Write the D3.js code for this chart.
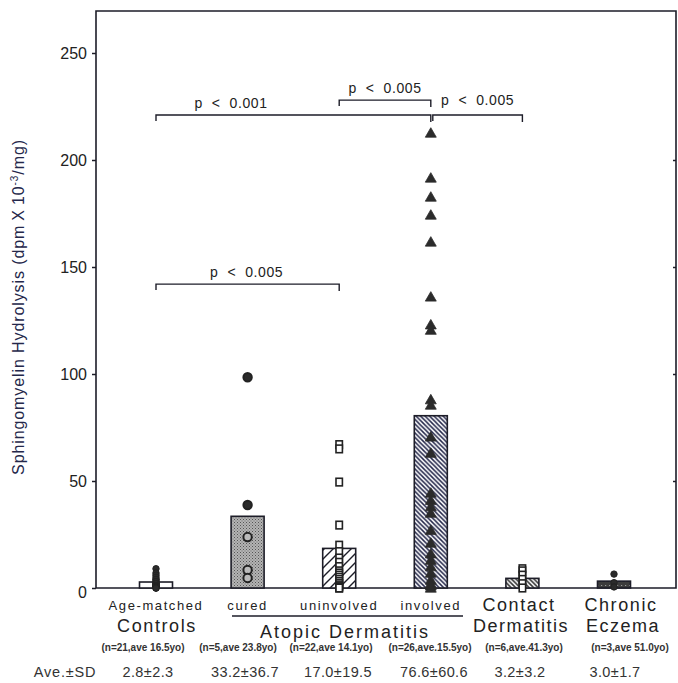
<!DOCTYPE html>
<html>
<head>
<meta charset="UTF-8" />
<script src="https://cdn.jsdelivr.net/npm/d3@7"></script>
<style>
  body { margin: 0; background: #fff; }
  svg { display: block; font-family: "Liberation Sans", Arial, sans-serif; }
  .pre { white-space: pre; }
</style>
</head>
<body>
<div id="chart"></div>
<script>
// groups along the x axis
const groups = ["controls", "cured", "uninvolved", "involved", "contact", "chronic"];
// bar heights (group means as drawn)
const barValues = [2.8, 33.5, 18.5, 80.5, 4.5, 3.2];
// individual points per group
const controlsPts = [9, 7, 6, 5, 4, 4, 3, 3, 2, 2, 2, 2, 1, 1, 1, 1, 0.5, 0.5, 0, 0, 0];
const curedPts = [98.5, 38.8, 23.8, 8.4, 4.7];
const uninvolvedPts = [67, 65, 49.5, 29.4, 20, 17, 14, 12, 10, 8, 7, 6, 5, 4, 3, 2, 2, 1, 1, 0.5, 0, 0];
const involvedPts = [212.6, 191.6, 182.7, 174.3, 161.7, 136, 123, 120.5, 88, 85.5, 70.6, 63, 44.4, 41, 38, 35, 27, 21, 16, 13, 10, 7, 3.7, 2, 1, 0];
const contactPts = [9, 8, 6, 4, 2, 0];
const chronicPts = [6.5, 2.5, 0.5];
// labels
const topLabels = ["Age-matched", "cured", "uninvolved", "involved"];
const nLabels = ["(n=21,ave 16.5yo)", "(n=5,ave 23.8yo)", "(n=22,ave 14.1yo)", "(n=26,ave.15.5yo)", "(n=6,ave.41.3yo)", "(n=3,ave 51.0yo)"];
const aveLabels = ["2.8\u00b12.3", "33.2\u00b136.7", "17.0\u00b119.5", "76.6\u00b160.6", "3.2\u00b13.2", "3.0\u00b11.7"];
const yTicks = [0, 50, 100, 150, 200, 250];
// significance brackets: from, to, level, label
const brackets = [
  ["controls", "involved", 221, "p  <  0.001"],
  ["uninvolved", "involved", 228, "p  <  0.005"],
  ["involved", "contact", 221, "p  <  0.005"],
  ["controls", "uninvolved", 142, "p  <  0.005"]
];

const W = 678, H = 683;
const ink = "#1d1d28", navy = "#24274a";
const svg = d3.select("#chart").append("svg").attr("width", W).attr("height", H);

const x = d3.scalePoint().domain(groups).range([156, 614]);
const y = d3.scaleLinear().domain([0, 250]).range([588, 53]);
const frameL = 96, frameR = 676, frameT = 11;

// patterns
const defs = svg.append("defs");
const stip = defs.append("pattern").attr("id", "stip").attr("width", 3).attr("height", 3).attr("patternUnits", "userSpaceOnUse");
stip.append("rect").attr("width", 3).attr("height", 3).attr("fill", "#b4b4b4");
stip.append("rect").attr("width", 1).attr("height", 1).attr("fill", "#555");
stip.append("rect").attr("x", 1.5).attr("y", 1.5).attr("width", 1).attr("height", 1).attr("fill", "#6a6a6a");
function hatch(id, size, dir, w, col) {
  const p = defs.append("pattern").attr("id", id).attr("width", size).attr("height", size)
    .attr("patternUnits", "userSpaceOnUse");
  p.append("rect").attr("width", size).attr("height", size).attr("fill", "#fff");
  const d = dir > 0
    ? `M0,${size} L${size},0 M${-size/2},${size/2} L${size/2},${-size/2} M${size/2},${size*1.5} L${size*1.5},${size/2}`
    : `M0,0 L${size},${size} M${-size/2},${size/2} L${size/2},${size*1.5} M${size/2},${-size/2} L${size*1.5},${size/2}`;
  p.append("path").attr("d", d).attr("stroke", col).attr("stroke-width", w);
}
hatch("wide", 9, 1, 1.4, ink);
hatch("dense", 4.5, -1, 1.5, navy);
hatch("dense2", 4.5, -1, 1.6, "#333");
const dark = defs.append("pattern").attr("id", "dark").attr("width", 4).attr("height", 4).attr("patternUnits", "userSpaceOnUse");
dark.append("rect").attr("width", 4).attr("height", 4).attr("fill", "#3c3c3c");
dark.append("rect").attr("x", 1).attr("y", 1).attr("width", 1.2).attr("height", 1).attr("fill", "#999");
const fills = ["#fff", "url(#stip)", "url(#wide)", "url(#dense)", "url(#dense2)", "url(#dark)"];

// frame
svg.append("path")
  .attr("d", `M${frameL},${frameT} H${frameR} V${y(0)} H${frameL} Z`)
  .attr("fill", "none").attr("stroke", ink).attr("stroke-width", 1.6);

// left axis
const yAxis = svg.append("g").attr("transform", `translate(${frameL},0)`)
  .call(d3.axisLeft(y).tickValues(yTicks).tickSize(4).tickPadding(5));
yAxis.select(".domain").remove();
yAxis.selectAll("line").attr("stroke", ink).attr("stroke-width", 1.5);
yAxis.selectAll("text").attr("font-size", 16).attr("fill", "#222").attr("font-family", "Liberation Sans, Arial");
yAxis.selectAll("text").filter(d => d === 0).attr("dy", "0.6em");

// right inward ticks
const rAxis = svg.append("g").attr("transform", `translate(${frameR},0)`)
  .call(d3.axisLeft(y).tickValues([50, 100, 150, 200]).tickSize(3).tickFormat(""));
rAxis.select(".domain").remove();
rAxis.selectAll("line").attr("stroke", ink).attr("stroke-width", 1.5);

// y label
const yl = svg.append("text")
  .attr("transform", `translate(24,307) rotate(-90)`)
  .attr("text-anchor", "middle").attr("font-size", 16).attr("letter-spacing", 0.9).attr("fill", navy);
yl.append("tspan").text("Sphingomyelin Hydrolysis (dpm\u2009X\u200910");
yl.append("tspan").attr("font-size", 10).attr("dy", -6).text("-3");
yl.append("tspan").attr("dy", 6).text("/mg)");

// bars
const bw = 33;
svg.selectAll("rect.bar").data(groups).enter().append("rect")
  .attr("class", "bar")
  .attr("x", d => x(d) - bw / 2)
  .attr("width", bw)
  .attr("y", (d, i) => y(barValues[i]))
  .attr("height", (d, i) => y(0) - y(barValues[i]))
  .attr("fill", (d, i) => fills[i])
  .attr("stroke", ink).attr("stroke-width", 1.6);

// points
const ptSets = [controlsPts, curedPts, uninvolvedPts, involvedPts, contactPts, chronicPts];
const shapes = ["circle", "circle", "square", "triangle", "square", "circle"];
ptSets.forEach((pts, gi) => {
  const cx = x(groups[gi]);
  const g = svg.append("g");
  const inBar = v => v <= barValues[gi];
  if (shapes[gi] === "circle") {
    g.selectAll("circle").data(pts).enter().append("circle")
      .attr("cx", cx).attr("cy", d => y(d))
      .attr("r", gi === 1 ? 4.2 : 3.2)
      .attr("fill", d => gi === 1 && inBar(d) ? "#bbb" : "#2b2b2b")
      .attr("stroke", "#222").attr("stroke-width", gi === 1 ? 2 : 1);
  } else if (shapes[gi] === "square") {
    g.selectAll("rect").data(pts).enter().append("rect")
      .attr("x", cx - 3.2).attr("y", d => y(d) - 3.8)
      .attr("width", 6.4).attr("height", 7.6)
      .attr("fill", "#fff").attr("stroke", "#222").attr("stroke-width", 1.6);
  } else {
    g.selectAll("path").data(pts).enter().append("path")
      .attr("d", d3.symbol(d3.symbolTriangle).size(52))
      .attr("transform", d => `translate(${cx},${y(d) + 1})`)
      .attr("fill", "#2b2b2b").attr("stroke", "#2b2b2b").attr("stroke-width", 0.8);
  }
});

// brackets
brackets.forEach(([a, b, lv, lab], i) => {
  let x1 = x(a), x2 = x(b);
  if (i === 2) x1 += 2;
  const yy = y(lv);
  svg.append("path")
    .attr("d", `M${x1},${yy + 6} V${yy} H${x2} V${yy + 7}`)
    .attr("fill", "none").attr("stroke", ink).attr("stroke-width", 1.4);
  const lx = i === 0 ? 231 : (x1 + x2) / 2 + (i === 3 ? -1 : 0);
  svg.append("text").attr("class", "pre")
    .attr("x", lx).attr("y", yy - (i === 2 ? 10 : 7))
    .attr("text-anchor", "middle").attr("font-size", 14).attr("fill", "#222")
    .attr("letter-spacing", 0.6)
    .text(lab);
});

// x labels
svg.selectAll("text.top").data(topLabels).enter().append("text")
  .attr("x", (d, i) => x(groups[i])).attr("y", 610)
  .attr("text-anchor", "middle").attr("font-size", 13).attr("letter-spacing", 1.6)
  .attr("fill", "#222").text(d => d);
svg.append("line").attr("x1", 232).attr("x2", 463).attr("y1", 616).attr("y2", 616)
  .attr("stroke", ink).attr("stroke-width", 1.6);
svg.append("text").attr("x", x("controls") + 1).attr("y", 632).attr("text-anchor", "middle")
  .attr("font-size", 18).attr("letter-spacing", 1.6).attr("fill", "#222").text("Controls");
svg.append("text").attr("x", 345).attr("y", 638).attr("text-anchor", "middle")
  .attr("font-size", 18).attr("letter-spacing", 2).attr("fill", "#222").text("Atopic Dermatitis");
[["Contact", "Dermatitis", 519], ["Chronic", "Eczema", 621]].forEach(([a, b, cx]) => {
  svg.append("text").attr("x", cx).attr("y", 611).attr("text-anchor", "middle")
    .attr("font-size", 18).attr("letter-spacing", 1.6).attr("fill", "#222").text(a);
  svg.append("text").attr("x", cx + 2).attr("y", 632).attr("text-anchor", "middle")
    .attr("font-size", 18).attr("letter-spacing", 1.5).attr("fill", "#222").text(b);
});
const nX = [143, 238, 331, 430, 524, 630];
svg.selectAll("text.n").data(nLabels).enter().append("text")
  .attr("x", (d, i) => nX[i]).attr("y", 651)
  .attr("text-anchor", "middle").attr("font-size", 10).attr("font-weight", "bold")
  .attr("fill", "#333").text(d => d);
const aX = [148, 245, 338, 434, 520, 615];
svg.append("text").attr("x", 65).attr("y", 677).attr("text-anchor", "middle")
  .attr("font-size", 14.5).attr("letter-spacing", 0.8).attr("fill", "#333").text("Ave.\u00b1SD");
svg.selectAll("text.ave").data(aveLabels).enter().append("text")
  .attr("x", (d, i) => aX[i]).attr("y", 677)
  .attr("text-anchor", "middle").attr("font-size", 14.5).attr("letter-spacing", 0.4)
  .attr("fill", "#333").text(d => d);
</script>
</body>
</html>
